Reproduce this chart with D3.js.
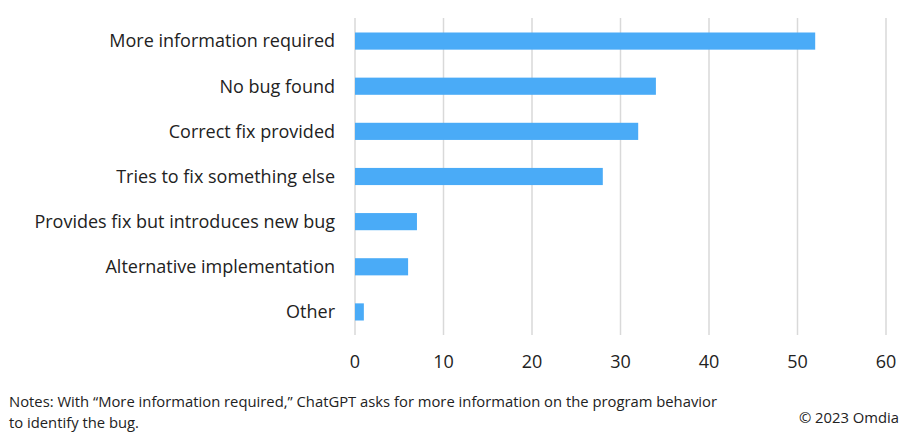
<!DOCTYPE html>
<html><head><meta charset="utf-8">
<script src="https://cdn.jsdelivr.net/npm/d3@7"></script>
<style>body{margin:0;background:#fff;font-family:"Open Sans","Liberation Sans",sans-serif;}</style>
</head><body>
<svg id="c" width="910" height="433"></svg>
<script>
const categories = ["More information required","No bug found","Correct fix provided","Tries to fix something else","Provides fix but introduces new bug","Alternative implementation","Other"];
const values = [52,34,32,28,7,6,1];
const ticks = [0,10,20,30,40,50,60];

const svg = d3.select("#c");
const x = d3.scaleLinear().domain([0,60]).range([355,886]);
const y = d3.scaleBand().domain(categories).range([18.5,334.5]).paddingInner(0.62).paddingOuter(0.31);

svg.append("g").selectAll("line").data(ticks).join("line")
  .attr("x1",d=>x(d)).attr("x2",d=>x(d)).attr("y1",18).attr("y2",335)
  .attr("stroke","#d9d9d9").attr("stroke-width",1.5);

svg.append("g").selectAll("rect").data(values).join("rect")
  .attr("x",x(0)).attr("y",(d,i)=>y(categories[i]))
  .attr("width",d=>x(d)-x(0)).attr("height",y.bandwidth())
  .attr("fill","#4aabf7");

svg.append("g").selectAll("text").data(categories).join("text")
  .attr("x",335).attr("y",d=>y(d)+y.bandwidth()/2).attr("dy","0.35em")
  .attr("text-anchor","end").attr("font-size",18).attr("fill","#222").text(d=>d);

svg.append("g").selectAll("text").data(ticks).join("text")
  .attr("x",d=>x(d)).attr("y",368).attr("text-anchor","middle")
  .attr("font-size",18).attr("fill","#222").text(d=>d);

svg.append("text").attr("x",9).attr("y",407).attr("font-size",14.8).attr("fill","#222")
  .text("Notes: With \u201cMore information required,\u201d ChatGPT asks for more information on the program behavior");
svg.append("text").attr("x",9).attr("y",428).attr("font-size",14.8).attr("fill","#222")
  .text("to identify the bug.");
svg.append("text").attr("x",899).attr("y",423).attr("text-anchor","end").attr("font-size",14.8).attr("fill","#222")
  .text("\u00a9 2023 Omdia");
</script>
</body></html>
